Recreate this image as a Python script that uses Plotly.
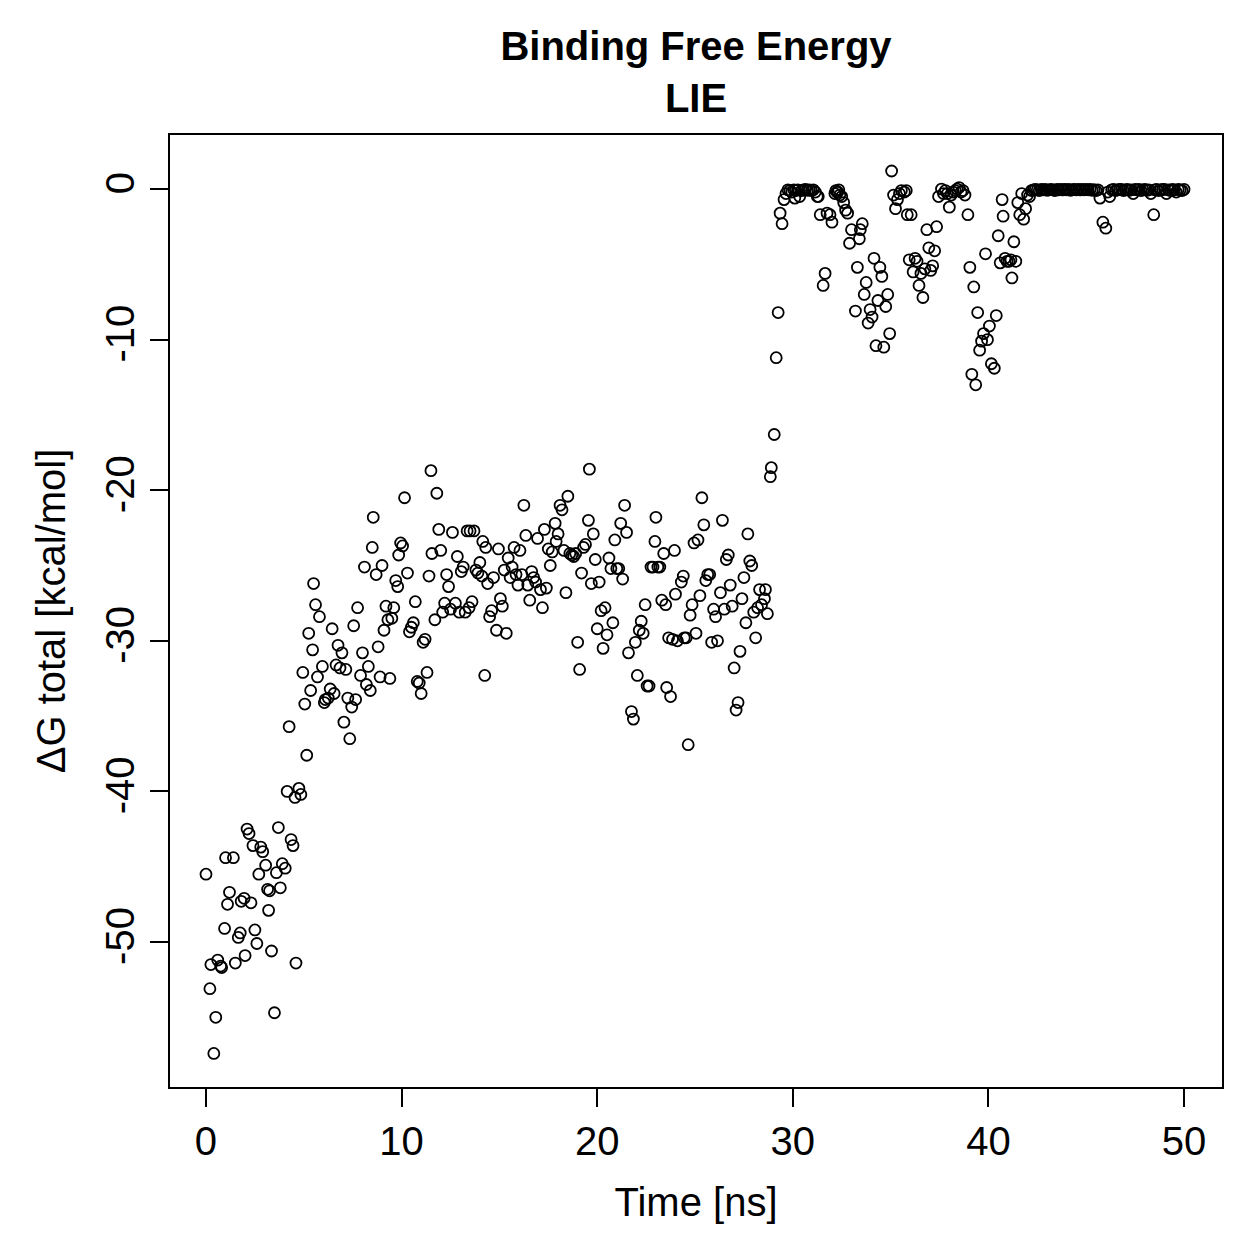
import plotly.graph_objects as go

# Time [ns] and ΔG total [kcal/mol]
time_a = [0.0, 0.2, 0.25, 0.4, 0.5, 0.6, 0.75, 0.8, 0.95, 1.0, 1.1, 1.2, 1.4, 1.5, 1.65, 1.75, 1.8, 1.95,
          2.0, 2.1, 2.2, 2.3, 2.4, 2.5, 2.6, 2.7, 2.8, 2.9, 3.05, 3.15, 3.2, 3.25, 3.35, 3.5, 3.6, 3.7,
          3.8, 3.9, 4.05, 4.15, 4.25, 4.35, 4.45, 4.55, 4.6, 4.75, 4.85, 4.95]
dg_a = [-45.5, -53.1, -51.5, -57.4, -55.0, -51.2, -51.6, -51.7, -49.1, -44.4, -47.5, -46.7, -44.4, -51.4,
        -49.7, -49.4, -47.3, -47.1, -50.9, -42.5, -42.8, -47.4, -43.6, -49.2, -50.1, -45.5, -43.7, -44.0,
        -44.9, -46.5, -47.9, -46.6, -50.6, -54.7, -45.4, -42.4, -46.4, -44.8, -45.1, -40.0, -35.7, -43.2,
        -43.6, -40.4, -51.4, -39.8, -40.2, -32.1]

time_b = [5.05, 5.15, 5.25, 5.35, 5.45, 5.5, 5.6, 5.7, 5.8, 5.95, 6.05, 6.1, 6.25, 6.35, 6.45, 6.55, 6.65,
          6.75, 6.85, 6.95, 7.05, 7.15, 7.25, 7.35, 7.45, 7.55, 7.65, 7.75, 7.9, 8.0, 8.1, 8.2, 8.3, 8.4,
          8.5, 8.55, 8.7, 8.8, 8.9, 9.0, 9.1, 9.2, 9.3, 9.4, 9.5, 9.6, 9.7, 9.8, 9.85, 9.95, 10.05, 10.15,
          10.3, 10.4, 10.5, 10.6, 10.7, 10.8, 10.9, 11.0, 11.1, 11.2, 11.3, 11.4, 11.5, 11.55, 11.7, 11.8,
          11.9, 12.0, 12.1, 12.2, 12.3, 12.4, 12.5, 12.6, 12.75, 12.85, 12.95, 13.05, 13.15, 13.25, 13.35,
          13.45, 13.5, 13.6, 13.7, 13.8, 13.9]
dg_b = [-34.2, -37.6, -29.5, -33.3, -30.6, -26.2, -27.6, -32.4, -28.4, -31.7, -34.1, -33.9, -33.8, -33.2,
        -29.2, -33.5, -31.6, -30.3, -31.8, -30.8, -35.4, -31.9, -33.8, -36.5, -34.4, -29.0, -33.9, -27.8,
        -32.3, -30.8, -25.1, -32.9, -31.7, -33.3, -23.8, -21.8, -25.6, -30.4, -32.4, -25.0, -29.3, -27.7,
        -28.6, -32.5, -28.5, -27.8, -26.0, -26.4, -24.3, -23.5, -23.7, -20.5, -25.5, -29.4, -29.1, -28.8,
        -27.4, -32.7, -32.8, -33.5, -30.1, -29.9, -32.1, -25.7, -18.7, -24.2, -28.6, -20.2, -22.6, -24.0,
        -28.1, -27.5, -25.6, -26.4, -27.9, -22.8, -27.5, -24.4, -28.1, -25.4, -25.1, -28.1, -22.7, -27.8,
        -22.7, -27.4, -22.7, -25.3, -25.5]

time_c = [14.0, 14.1, 14.15, 14.25, 14.3, 14.4, 14.5, 14.6, 14.7, 14.85, 14.95, 15.05, 15.15, 15.25, 15.35,
          15.45, 15.55, 15.65, 15.75, 15.85, 15.95, 16.05, 16.15, 16.25, 16.35, 16.45, 16.55, 16.65, 16.75,
          16.85, 16.95, 17.1, 17.2, 17.3, 17.4, 17.5, 17.6, 17.7, 17.85, 17.9, 18.0, 18.1, 18.2, 18.3, 18.4,
          18.5, 18.6, 18.7, 18.8, 18.9, 19.0, 19.1, 19.2, 19.3, 19.4, 19.55, 19.6, 19.7, 19.8, 19.9, 20.0,
          20.1, 20.2, 20.3, 20.4, 20.5, 20.6, 20.7, 20.8, 20.9, 21.0, 21.1, 21.2, 21.3, 21.4, 21.5, 21.6,
          21.75, 21.85, 21.95, 22.05, 22.15, 22.25, 22.35, 22.45, 22.55, 22.65, 22.75, 22.85, 22.95, 23.0,
          23.1, 23.2, 23.3, 23.4, 23.5, 23.55, 23.65, 23.75, 23.85, 23.95, 24.0, 24.1, 24.3, 24.4, 24.45,
          24.55, 24.65, 24.75, 24.85, 24.95, 25.05, 25.15, 25.25, 25.35, 25.45, 25.55, 25.65, 25.75, 25.85,
          25.95, 26.05, 26.15, 26.3, 26.4, 26.5, 26.6, 26.7, 26.8, 26.9, 27.0, 27.1, 27.2, 27.3, 27.4, 27.5,
          27.6, 27.7, 27.8, 27.9, 28.0, 28.1, 28.2, 28.3, 28.4, 28.55, 28.6, 28.7]
dg_c = [-24.8, -25.7, -23.4, -32.3, -23.8, -26.2, -28.4, -28.0, -25.8, -29.3, -23.9, -27.2, -27.7, -25.3,
        -29.5, -24.5, -25.8, -25.1, -23.8, -25.6, -26.3, -24.0, -25.6, -21.0, -23.0, -26.3, -27.3, -25.4,
        -25.8, -26.1, -23.2, -26.6, -27.8, -22.6, -26.5, -23.9, -25.0, -24.1, -22.2, -23.4, -22.9, -21.0,
        -21.3, -24.0, -26.8, -20.4, -24.2, -24.3, -24.4, -24.2, -30.1, -31.9, -25.5, -23.8, -23.6, -22.0,
        -18.6, -26.2, -22.9, -24.6, -29.2, -26.1, -28.0, -30.5, -27.8, -29.6, -24.5, -25.2, -28.8, -23.3,
        -25.2, -25.2, -22.2, -25.9, -21.0, -22.8, -30.8, -34.7, -35.2, -30.1, -32.3, -29.3, -28.7, -29.5,
        -27.6, -33.0, -33.0, -25.1, -25.1, -23.4, -21.8, -25.1, -25.1, -27.3, -24.2, -27.6, -33.1, -29.8,
        -33.7, -29.9, -24.0, -26.9, -30.0, -26.1, -25.7, -29.8, -29.8, -36.9, -28.3, -27.6, -23.5, -29.5,
        -23.3, -27.0, -20.5, -22.3, -26.0, -25.6, -25.6, -30.1, -27.9, -28.4, -30.0, -26.8, -22.0, -27.9,
        -24.6, -24.3, -26.3, -27.7, -31.8, -34.6, -34.1, -30.7, -27.2, -25.8, -28.8, -22.9, -24.7, -25.0,
        -28.1, -29.8, -27.8, -26.6, -27.6, -27.2, -26.6, -28.2]

time_d = [28.85, 28.9, 29.05, 29.15, 29.25, 29.35, 29.45, 29.55, 29.65, 29.75, 29.85, 29.95, 30.05, 30.1,
          30.15, 30.25, 30.35, 30.45, 30.55, 30.65, 30.75, 30.85, 30.95, 31.05, 31.15, 31.25, 31.3, 31.4,
          31.55, 31.65, 31.75, 31.9, 32.0, 32.15, 32.2, 32.25, 32.3, 32.35, 32.4, 32.5, 32.6, 32.7, 32.8,
          32.9, 33.0, 33.2, 33.3, 33.4, 33.45, 33.55, 33.65, 33.75, 33.85, 33.95, 34.05, 34.15, 34.25, 34.35,
          34.45, 34.55, 34.65, 34.75, 34.85, 34.95, 35.05, 35.15, 35.25, 35.35, 35.45, 35.55, 35.7, 35.8,
          35.85, 35.95, 36.05, 36.15, 36.25, 36.35, 36.45, 36.55, 36.65, 36.75, 36.85, 36.95, 37.05, 37.15,
          37.25, 37.35, 37.45, 37.6, 37.7, 37.8, 37.9, 38.0, 38.1, 38.2, 38.3, 38.4, 38.5, 38.6, 38.7, 38.8,
          38.95, 39.05, 39.15, 39.25, 39.35, 39.45, 39.55, 39.65, 39.75, 39.85, 39.95, 40.05, 40.15, 40.3,
          40.4, 40.5, 40.6, 40.7, 40.75, 40.85, 40.95, 41.05, 41.15, 41.2, 41.3, 41.4, 41.5, 41.6, 41.7,
          41.8, 41.9, 42.0, 42.1]
dg_d = [-19.1, -18.5, -16.3, -11.2, -8.2, -1.6, -2.3, -0.7, -0.3, -0.05, -0.1, -0.2, -0.05, -0.6, -0.1,
        -0.05, -0.5, -0.1, -0.05, -0.02, -0.08, -0.05, -0.1, -0.05, -0.2, -0.5, -0.5, -1.7, -6.4, -5.6,
        -1.6, -1.7, -2.2, -0.3, -0.1, -0.2, -0.2, -0.05, -0.4, -0.5, -0.9, -1.4, -1.6, -3.6, -2.7, -8.1,
        -5.2, -3.3, -2.7, -2.3, -7.0, -6.2, -8.9, -8.0, -8.5, -4.6, -10.4, -7.4, -5.2, -5.8, -10.5, -7.8,
        -7.0, -9.6, 1.2, -0.4, -1.3, -0.7, -0.3, -0.1, -0.2, -0.1, -1.7, -4.7, -1.7, -5.5, -4.6, -4.8,
        -6.4, -5.6, -7.2, -5.3, -2.7, -3.9, -5.4, -5.1, -4.1, -2.5, -0.5, 0.0, -0.3, -0.1, -0.3, -1.2,
        -0.4, -0.2, -0.1, 0.0, 0.1, -0.2, -0.1, -0.4, -1.7, -5.2, -12.3, -6.5, -13.0, -8.2, -10.7, -10.1,
        -9.6, -4.3, -10.0, -9.1, -11.6, -11.9, -8.4, -3.1, -4.9, -0.7, -1.8, -4.6, -4.8, -4.8, -4.7, -5.9,
        -3.5, -4.8, -0.9, -1.7, -0.3, -2.0, -1.3, -0.4, -0.5]

time_e = [42.2, 42.3, 42.4, 42.5, 42.6, 42.7, 42.8, 42.9, 43.0, 43.1, 43.2, 43.3, 43.4, 43.5, 43.6, 43.7,
          43.8, 43.9, 44.0, 44.1, 44.2, 44.3, 44.4, 44.5, 44.6, 44.7, 44.8, 44.9, 45.0, 45.1, 45.2, 45.3,
          45.4, 45.5, 45.6, 45.7, 45.85, 46.0, 46.1, 46.2, 46.3, 46.4, 46.5, 46.6, 46.7, 46.8, 46.9, 47.0,
          47.1, 47.2, 47.3, 47.4, 47.5, 47.6, 47.7, 47.8, 47.9, 48.0, 48.1, 48.2, 48.3, 48.45, 48.5, 48.6,
          48.7, 48.8, 48.9, 49.0, 49.1, 49.2, 49.3, 49.4, 49.5, 49.6, 49.7, 49.8, 49.9, 50.0]
dg_e = [-0.1, -0.05, -0.02, -0.05, -0.1, -0.03, -0.05, -0.02, -0.08, -0.05, -0.02, -0.05, -0.1, -0.03,
        -0.05, -0.02, -0.06, -0.03, -0.05, -0.02, -0.08, -0.04, -0.02, -0.05, -0.03, -0.06, -0.02, -0.05,
        -0.03, -0.05, -0.02, -0.08, -0.04, -0.1, -0.05, -0.6, -2.2, -2.6, -0.2, -0.5, -0.05, -0.02, -0.1,
        -0.05, -0.03, -0.02, -0.1, -0.05, -0.02, -0.08, -0.05, -0.3, -0.03, -0.05, -0.02, -0.1, -0.05,
        -0.02, -0.08, -0.05, -0.3, -1.7, -0.05, -0.02, -0.1, -0.05, -0.03, -0.02, -0.3, -0.05, -0.1,
        -0.02, -0.05, -0.2, -0.03, -0.05, -0.1, -0.02]

time_ns = time_a + time_b + time_c + time_d + time_e
dg_total = dg_a + dg_b + dg_c + dg_d + dg_e

x_ticks = [0, 10, 20, 30, 40, 50]
y_ticks = [0, -10, -20, -30, -40, -50]

FONT = "Liberation Sans, Arial, Helvetica, sans-serif"

fig = go.Figure()
fig.add_trace(go.Scatter(
    x=time_ns, y=dg_total, mode="markers",
    marker=dict(symbol="circle-open", size=11, color="black", line=dict(width=1.8)),
    showlegend=False,
))

fig.update_layout(
    width=1259, height=1259,
    margin=dict(l=170, r=37, t=135, b=172),
    paper_bgcolor="white", plot_bgcolor="white",
    font=dict(family=FONT, size=40, color="black"),
    title=dict(text="<b>Binding Free Energy<br>LIE</b>", x=0.5, xref="paper", xanchor="center",
               y=0.952, yref="container", yanchor="top", font=dict(size=40, family=FONT)),
)

fig.update_xaxes(
    range=[-1.84, 51.94], tickvals=x_ticks, ticktext=[str(v) for v in x_ticks],
    showgrid=False, zeroline=False, showline=True, mirror=True, linecolor="black", linewidth=2,
    ticks="outside", ticklen=18, tickwidth=2, tickcolor="black",
    tickfont=dict(size=40, family=FONT),
    title=dict(text="Time [ns]", font=dict(size=40, family=FONT), standoff=26),
)
fig.update_yaxes(
    range=[-59.63, 3.59], tickvals=y_ticks, ticktext=[str(v) for v in y_ticks],
    showgrid=False, zeroline=False, showline=True, mirror=True, linecolor="black", linewidth=2,
    ticks="outside", ticklen=18, tickwidth=2, tickcolor="black", tickangle=-90,
    tickfont=dict(size=40, family=FONT),
    title=dict(text="ΔG total [kcal/mol]", font=dict(size=40, family=FONT), standoff=20),
)

fig.write_html("out.html")
